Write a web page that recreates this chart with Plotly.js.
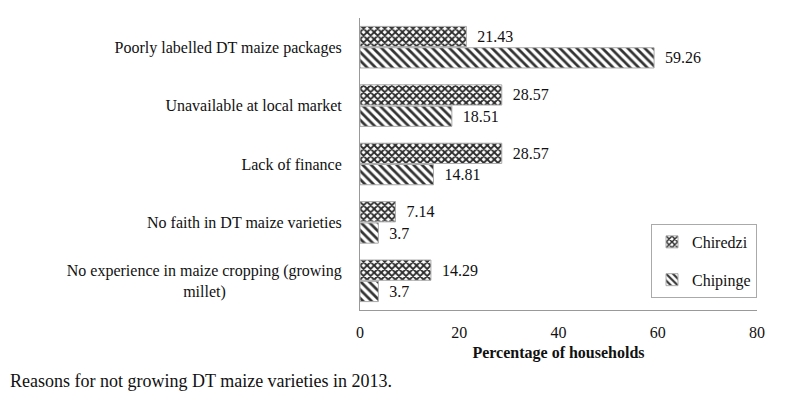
<!DOCTYPE html>
<html><head><meta charset="utf-8">
<script src="https://cdn.plot.ly/plotly-3.0.1.min.js"></script>
<style>body{margin:0;background:#fff}#c{width:800px;height:399px}</style>
</head><body><div id="c"></div>
<script>
const categories = [
  "Poorly labelled DT maize packages",
  "Unavailable at local market",
  "Lack of finance",
  "No faith in DT maize varieties",
  "No experience in maize cropping (growing<br>millet)" + "\u00a0".repeat(29)
];
const chiredzi = [21.43, 28.57, 28.57, 7.14, 14.29];
const chipinge = [59.26, 18.51, 14.81, 3.7, 3.7];
const chiredziLabels = ["21.43", "28.57", "28.57", "7.14", "14.29"];
const chipingeLabels = ["59.26", "18.51", "14.81", "3.7", "3.7"];
const xTicks = [0, 20, 40, 60, 80];

const pad = s => "\u00a0\u00a0" + s;
const fontFam = "Liberation Serif, Times New Roman, serif";
const traces = [
  {type:"bar", orientation:"h", name:"Chiredzi", y:categories, x:chiredzi,
   text:chiredziLabels.map(pad), textposition:"outside", cliponaxis:false, legendgroup:"a",
   textfont:{family:fontFam, size:16, color:"#111"},
   marker:{color:"#fff", line:{color:"#aaa", width:1},
     pattern:{shape:"x", fgcolor:"#2a2a2a", bgcolor:"#fff", size:5, solidity:0.6}}},
  {type:"bar", orientation:"h", name:"Chipinge", y:categories, x:chipinge,
   text:chipingeLabels.map(pad), textposition:"outside", cliponaxis:false, legendgroup:"b",
   textfont:{family:fontFam, size:16, color:"#111"},
   marker:{color:"#fff", line:{color:"#aaa", width:1},
     pattern:{shape:"\\", fgcolor:"#333", bgcolor:"#fff", size:6, solidity:0.45}}}
];
const layout = {
  width:800, height:399,
  margin:{l:360, r:43, t:18, b:89},
  paper_bgcolor:"#fff", plot_bgcolor:"#fff",
  font:{family:fontFam, size:16, color:"#111"},
  barmode:"group", bargap:0.27, bargroupgap:0.05,
  xaxis:{range:[0,80], tickvals:xTicks, showgrid:false, zeroline:false,
    showline:true, linecolor:"#999", linewidth:1, ticks:"", ticklen:0, ticklabelstandoff:8,
    tickfont:{family:fontFam, size:16, color:"#111"},
    title:{text:"<b>Percentage of households</b>", font:{family:fontFam, size:16, color:"#111"}, standoff:6}},
  yaxis:{type:"category", autorange:"reversed", showgrid:false, zeroline:false,
    showline:true, linecolor:"#999", linewidth:1, ticks:"", ticklen:0, ticklabelstandoff:14,
    tickfont:{family:fontFam, size:16, color:"#111"}},
  legend:{x:1.0, y:12/291, xanchor:"right", yanchor:"bottom", bordercolor:"#aaa", borderwidth:1,
    bgcolor:"#fff", tracegroupgap:14, itemwidth:30, font:{family:fontFam, size:16, color:"#111"}},
  annotations:[{text:"Reasons for not growing DT maize varieties in 2013.", xref:"paper", yref:"paper",
    x:-352/397, y:-71/291, xanchor:"left", yanchor:"middle", showarrow:false,
    font:{family:fontFam, size:18, color:"#111"}}]
};
Plotly.newPlot("c", traces, layout, {displayModeBar:false, staticPlot:true});
</script></body></html>
